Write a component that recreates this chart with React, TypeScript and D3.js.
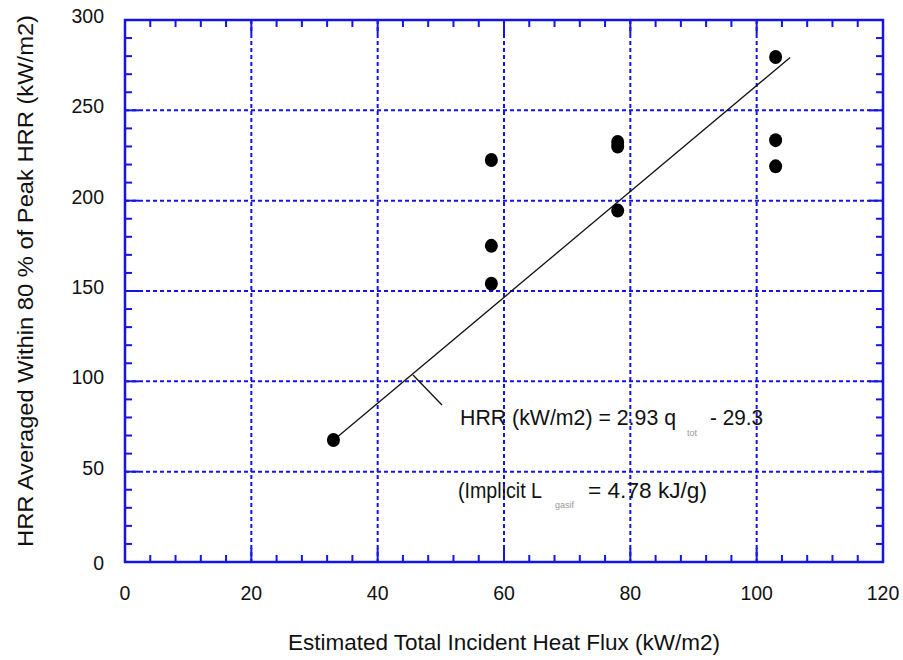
import React from "react";
import * as d3 from "d3";

const xTicks = [0, 20, 40, 60, 80, 100, 120];
const yTicks = [0, 50, 100, 150, 200, 250, 300];
const pointX = [33, 58, 58, 58, 78, 78, 78, 103, 103, 103];
const pointY = [67.5, 222.5, 175, 154, 232.5, 230, 194.5, 279.5, 233.5, 219];
const slope = 2.93;
const intercept = -29.3;
const fitRange = [33, 105.3];
const xTitle = "Estimated Total Incident Heat Flux (kW/m2)";
const yTitle = "HRR Averaged Within 80 % of Peak HRR (kW/m2)";

const W = 903;
const H = 660;
const L = 125, R = 883, T = 20, B = 562;
const BLUE = "#1414e6";
const FONT = "'Liberation Sans', Arial, sans-serif";

export default function App() {
  const x = d3.scaleLinear().domain([0, 120]).range([L, R]);
  const y = d3.scaleLinear().domain([0, 300]).range([B, T]);
  const xMinor = d3.range(0, 120.001, 4).filter((v) => v % 20 !== 0);
  const yMinor = d3.range(0, 300.001, 10).filter((v) => v % 50 !== 0);
  const line = d3.line<number>().x((v) => x(v)).y((v) => y(slope * v + intercept));
  const minorLen = 7;
  const majorLen = 14;

  return (
    <svg width={W} height={H} style={{ position: "absolute", left: 0, top: 0, background: "#fff" }}>
      <rect x={0} y={0} width={W} height={H} fill="#fff" />
      {xTicks.slice(1, -1).map((v) => (
        <line key={"gx" + v} x1={x(v)} x2={x(v)} y1={T} y2={B} stroke={BLUE} strokeWidth={2} strokeDasharray="4,3" />
      ))}
      {yTicks.slice(1, -1).map((v) => (
        <line key={"gy" + v} x1={L} x2={R} y1={y(v)} y2={y(v)} stroke={BLUE} strokeWidth={2} strokeDasharray="4,3" />
      ))}
      {xMinor.map((v) => (
        <g key={"mx" + v}>
          <line x1={x(v)} x2={x(v)} y1={B} y2={B - minorLen} stroke={BLUE} strokeWidth={2} />
          <line x1={x(v)} x2={x(v)} y1={T} y2={T + minorLen} stroke={BLUE} strokeWidth={2} />
        </g>
      ))}
      {yMinor.map((v) => (
        <g key={"my" + v}>
          <line x1={L} x2={L + minorLen} y1={y(v)} y2={y(v)} stroke={BLUE} strokeWidth={2} />
          <line x1={R} x2={R - minorLen} y1={y(v)} y2={y(v)} stroke={BLUE} strokeWidth={2} />
        </g>
      ))}
      {xTicks.slice(1, -1).map((v) => (
        <g key={"Mx" + v}>
          <line x1={x(v)} x2={x(v)} y1={B} y2={B - majorLen} stroke={BLUE} strokeWidth={2} />
          <line x1={x(v)} x2={x(v)} y1={T} y2={T + majorLen} stroke={BLUE} strokeWidth={2} />
        </g>
      ))}
      {yTicks.slice(1, -1).map((v) => (
        <g key={"My" + v}>
          <line x1={L} x2={L + majorLen} y1={y(v)} y2={y(v)} stroke={BLUE} strokeWidth={2} />
          <line x1={R} x2={R - majorLen} y1={y(v)} y2={y(v)} stroke={BLUE} strokeWidth={2} />
        </g>
      ))}
      <rect x={L} y={T} width={R - L} height={B - T} fill="none" stroke={BLUE} strokeWidth={2.5} />
      {xTicks.map((v) => (
        <text key={"tx" + v} x={x(v)} y={600} textAnchor="middle" fontFamily={FONT} fontSize={19.5} fill="#111">
          {v}
        </text>
      ))}
      {yTicks.map((v) => (
        <text key={"ty" + v} x={104} y={y(v) + (v === 0 ? 8 : 3)} textAnchor="end" fontFamily={FONT} fontSize={19.5} fill="#111">
          {v}
        </text>
      ))}
      <text x={288} y={650} textLength={432} lengthAdjust="spacingAndGlyphs" fontFamily={FONT} fontSize={22} fill="#111">
        {xTitle}
      </text>
      <text transform={`translate(33, 547) rotate(-90)`} textLength={532} lengthAdjust="spacingAndGlyphs" fontFamily={FONT} fontSize={22} fill="#111">
        {yTitle}
      </text>
      <path d={line(fitRange) || ""} fill="none" stroke="#111" strokeWidth={1.3} />
      <line x1={413} y1={375} x2={442} y2={405} stroke="#111" strokeWidth={1.3} />
      {pointX.map((v, i) => (
        <ellipse key={"p" + i} cx={x(v)} cy={y(pointY[i])} rx={6.5} ry={7} fill="#000" />
      ))}
      <text x={460} y={425} textLength={216} lengthAdjust="spacingAndGlyphs" fontFamily={FONT} fontSize={22} fill="#111">
        HRR (kW/m2) = 2.93 q
      </text>
      <text x={687} y={436} fontFamily={FONT} fontSize={9} fill="#999">tot</text>
      <text x={710} y={425} textLength={53} lengthAdjust="spacingAndGlyphs" fontFamily={FONT} fontSize={22} fill="#111">- 29.3</text>
      <text x={458} y={498} textLength={84} lengthAdjust="spacingAndGlyphs" fontFamily={FONT} fontSize={22} fill="#111">(Implicit L</text>
      <text x={555} y={508} fontFamily={FONT} fontSize={9} fill="#999">gasif</text>
      <text x={588} y={498} textLength={119} lengthAdjust="spacingAndGlyphs" fontFamily={FONT} fontSize={22} fill="#111">= 4.78 kJ/g)</text>
    </svg>
  );
}
